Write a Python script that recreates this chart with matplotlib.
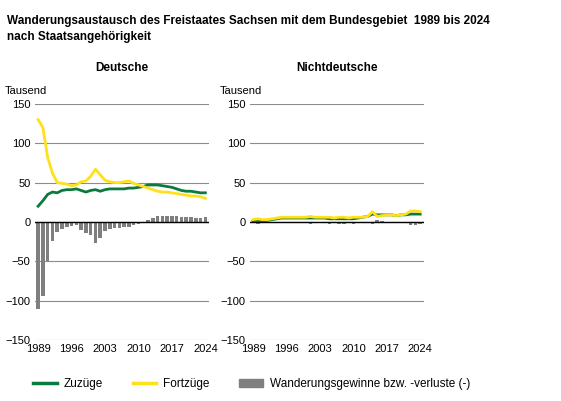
import matplotlib
matplotlib.use("Agg")
import matplotlib.pyplot as plt
import numpy as np
plt.rcParams['font.family'] = ['Liberation Sans', 'DejaVu Sans']

years = list(range(1989, 2025))
de_zu = [20,27,35,38,37,40,41,41,42,40,38,40,41,39,41,42,42,42,42,43,43,44,45,47,47,47,46,45,44,42,40,39,39,38,37,37]
de_fort = [130,120,82,62,50,49,48,46,47,51,52,58,67,60,53,51,50,50,51,52,49,47,45,43,41,39,38,38,37,36,35,34,33,33,32,30]
de_net = [-110,-94,-50,-24,-13,-9,-7,-5,-4,-10,-14,-17,-27,-21,-12,-9,-8,-8,-7,-7,-4,-2,0,3,5,8,7,7,7,7,6,6,6,5,5,6]
nd_zu = [1,2,1,2,3,4,5,5,5,5,5,5,5,5,5,5,4,4,4,4,4,4,5,6,7,10,9,9,9,9,8,9,9,10,10,10]
nd_fort = [3,4,3,3,4,5,6,6,6,6,6,6,7,6,6,6,6,5,6,6,5,6,6,6,7,13,7,8,9,9,8,9,10,14,14,13]
nd_net = [-1,-2,-1,-1,-1,-1,-1,-1,-1,-1,-1,-1,-2,-1,-1,-1,-2,-1,-2,-2,-1,-2,-1,0,0,-3,2,1,0,0,0,0,-1,-4,-4,-3]
xticks = [1989, 1996, 2003, 2010, 2017, 2024]

green = '#0a7a3e'; yellow = '#ffe01a'; grey = '#7f7f7f'
fig = plt.figure(figsize=(5.61, 4.01), dpi=100)
fig.text(0.012, 0.94, 'Wanderungsaustausch des Freistaates Sachsen mit dem Bundesgebiet  1989 bis 2024', fontsize=8.5, fontweight='bold')
fig.text(0.012, 0.90, 'nach Staatsangehörigkeit', fontsize=8.5, fontweight='bold')

panels = [(0.062, 'Deutsche', de_zu, de_fort, de_net), (0.445, 'Nichtdeutsche', nd_zu, nd_fort, nd_net)]
for left, title, zu, fo, net in panels:
    ax = fig.add_axes([left, 0.152, 0.31, 0.589])
    ax.bar(years, net, width=0.75, color=grey, zorder=2)
    ax.plot(years, zu, color=green, lw=2, zorder=3)
    ax.plot(years, fo, color=yellow, lw=2, zorder=3)
    ax.set_ylim(-150, 150)
    ax.set_xlim(1988.3, 2024.7)
    ax.set_yticks(range(-150, 151, 50))
    ax.set_xticks(xticks)
    ax.grid(axis='y', color='#8c8c8c', lw=0.8, zorder=0)
    ax.axhline(0, color='black', lw=1, zorder=4)
    for s in ax.spines.values(): s.set_visible(False)
    ax.tick_params(length=0, labelsize=8, pad=3)
    ax.set_title(title, fontsize=8.5, fontweight='bold', pad=24)
    ax.text(-0.17, 1.04, 'Tausend', transform=ax.transAxes, fontsize=8)

from matplotlib.lines import Line2D
from matplotlib.patches import Patch
handles = [Line2D([], [], color=green, lw=2.5), Line2D([], [], color=yellow, lw=2.5), Patch(color=grey)]
fig.legend(handles, ['Zuzüge', 'Fortzüge', 'Wanderungsgewinne bzw. -verluste (-)'], loc='lower left',
           bbox_to_anchor=(0.04, 0.0), ncol=3, frameon=False, fontsize=8.5, handlelength=2, columnspacing=2.5, handletextpad=0.6)
fig.savefig('out.png', dpi=100)
